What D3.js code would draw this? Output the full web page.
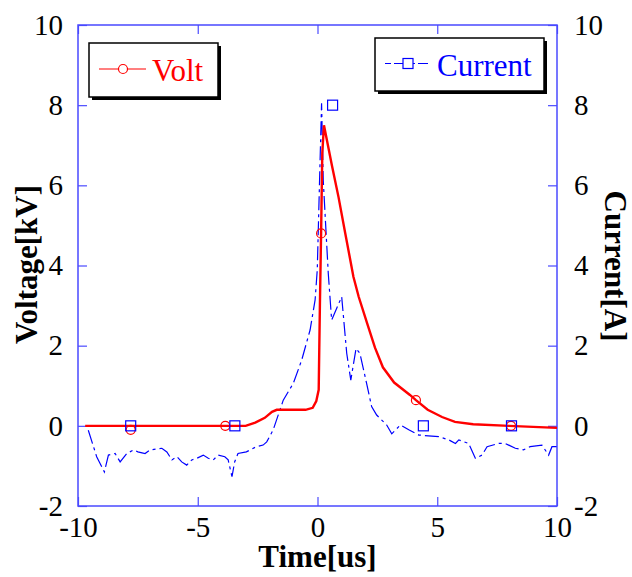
<!DOCTYPE html>
<html>
<head>
<meta charset="utf-8">
<script src="https://cdn.jsdelivr.net/npm/d3@7"></script>
</head>
<body style="margin:0">
<script>
// Voltage trace [time us, kV]
const VOLT = [
  [-9.7, 0], [-3.0, 0], [-2.6, 0.08], [-2.2, 0.2], [-1.9, 0.35], [-1.7, 0.4],
  [-0.5, 0.4], [-0.2, 0.45], [-0.05, 0.62], [0.05, 0.9], [0.1, 3.0], [0.15, 4.8],
  [0.2, 6.8], [0.27, 7.5], [0.6, 6.5], [0.88, 5.7], [1.16, 4.8], [1.5, 3.72],
  [1.72, 3.22], [2.07, 2.56], [2.4, 1.95], [2.73, 1.46], [3.2, 1.08], [3.86, 0.77],
  [4.11, 0.64], [4.6, 0.4], [5.2, 0.22], [5.74, 0.1], [6.5, 0.04], [8, 0], [10, -0.05]
];
const VOLT_MARKS = [[-7.8, -0.1], [-3.85, 0], [0.15, 4.8], [4.11, 0.64], [8.08, 0]];

// Current trace [time us, A]
const CURRENT = [
  [-9.57, -0.11], [-9.22, -0.77], [-8.9, -1.15], [-8.73, -0.73], [-8.45, -0.69],
  [-8.24, -0.9], [-7.96, -0.69], [-7.68, -0.6], [-7.5, -0.65], [-7.2, -0.69],
  [-6.99, -0.6], [-6.5, -0.56], [-6.29, -0.65], [-6.08, -0.85], [-5.87, -0.77],
  [-5.67, -0.9], [-5.46, -0.98], [-5.25, -0.85], [-5.04, -0.81], [-4.77, -0.73],
  [-4.56, -0.81], [-4.35, -0.85], [-4.15, -0.73], [-3.87, -0.77], [-3.73, -0.85],
  [-3.57, -1.27], [-3.46, -0.9], [-3.32, -0.69], [-2.97, -0.65], [-2.55, -0.52],
  [-2.27, -0.48], [-2.12, -0.4], [-1.85, -0.1], [-1.43, 0.64], [-1.01, 1.06],
  [-0.66, 1.64], [-0.31, 2.39], [-0.1, 3.14], [-0.01, 3.89], [0.17, 8.05],
  [0.24, 6.13], [0.45, 3.8], [0.59, 2.64], [1.01, 3.22], [1.22, 1.81], [1.39, 1.14],
  [1.61, 1.93], [1.77, 1.81], [2.05, 1.06], [2.26, 0.48], [2.47, 0.27], [2.89, 0.02],
  [3.1, -0.2], [3.46, 0.02], [3.81, -0.1], [4.23, -0.23], [5.06, -0.27], [5.48, -0.35],
  [5.76, -0.44], [5.9, -0.35], [6.31, -0.44], [6.59, -0.81], [6.87, -0.73], [7.08, -0.52],
  [7.57, -0.44], [7.84, -0.44], [8.26, -0.56], [8.6, -0.6], [8.88, -0.52], [9.37, -0.48],
  [9.65, -0.73], [9.79, -0.52], [10, -0.52]
];
const CURRENT_MARKS = [[-7.8, 0], [-3.45, 0], [0.63, 8], [4.42, 0], [8.1, 0]];

const X_TICKS = [-10, -5, 0, 5, 10];
const Y_TICKS = [-2, 0, 2, 4, 6, 8, 10];

const width = 632, height = 577;
const margin = { top: 25, right: 75, bottom: 71, left: 78 };
const innerW = width - margin.left - margin.right;
const innerH = height - margin.top - margin.bottom;
const AXIS = '#4a4aff';
const SERIF = '"Liberation Serif", "Times New Roman"';

const svg = d3.select('body').append('svg')
  .attr('width', width).attr('height', height);
const g = svg.append('g').attr('transform', `translate(${margin.left},${margin.top})`);

const x = d3.scaleLinear().domain([-10, 10]).range([0, innerW]);
const y = d3.scaleLinear().domain([-2, 10]).range([innerH, 0]);
const y2 = d3.scaleLinear().domain([-2, 10]).range([innerH, 0]);
const fmt = d => String(d);

// force the serif face on a text
function serif(sel, size, bold) {
  sel.attr('font-family', SERIF).attr('font-size', size)
    .style('font-family', SERIF, 'important')
    .style('font-size', size + 'px', 'important');
  if (bold) sel.attr('font-weight', 'bold').style('font-weight', 'bold', 'important');
  return sel;
}

// axes with inward ticks
function styleAxis(sel) {
  sel.attr('font-family', null).attr('font-size', null);
  sel.select('.domain').remove();
  sel.selectAll('line').attr('stroke', AXIS).attr('stroke-width', 1.2);
  sel.selectAll('text').attr('fill', '#000').call(serif, 29, false);
}
g.append('g').attr('transform', `translate(0,${innerH})`)
  .call(d3.axisBottom(x).tickValues(X_TICKS).tickSizeInner(-9).tickPadding(10).tickFormat(fmt))
  .call(styleAxis);
g.append('g')
  .call(d3.axisTop(x).tickValues(X_TICKS).tickSizeInner(-9).tickFormat(''))
  .call(styleAxis);
g.append('g')
  .call(d3.axisLeft(y).tickValues(Y_TICKS).tickSizeInner(-9).tickPadding(15).tickFormat(fmt))
  .call(styleAxis);
g.append('g').attr('transform', `translate(${innerW},0)`)
  .call(d3.axisRight(y2).tickValues(Y_TICKS).tickSizeInner(-9).tickPadding(17).tickFormat(fmt))
  .call(styleAxis);

g.append('rect').attr('width', innerW).attr('height', innerH)
  .attr('fill', 'none').attr('stroke', AXIS).attr('stroke-width', 1.5);

// axis titles
g.append('text').attr('transform', `translate(${-41},${innerH / 2 - 1}) rotate(-90)`)
  .attr('text-anchor', 'middle').call(serif, 31, true).text('Voltage[kV]');
g.append('text').attr('transform', `translate(${innerW + 48},${innerH / 2 + 0.5}) rotate(90)`)
  .attr('text-anchor', 'middle').call(serif, 31, true).text('Current[A]');
g.append('text').attr('x', innerW / 2).attr('y', innerH + 61)
  .attr('text-anchor', 'middle').call(serif, 31, true).text('Time[us]');

// lines
g.append('path').datum(CURRENT)
  .attr('d', d3.line().x(d => x(d[0])).y(d => y2(d[1])))
  .attr('fill', 'none').attr('stroke', '#0000ff').attr('stroke-width', 1.2)
  .attr('stroke-dasharray', '14,4,3,4');
g.append('path').datum(VOLT)
  .attr('d', d3.line().x(d => x(d[0])).y(d => y(d[1])))
  .attr('fill', 'none').attr('stroke', '#ff0000').attr('stroke-width', 2.4);

// markers
g.selectAll('.vm').data(VOLT_MARKS).join('circle')
  .attr('cx', d => x(d[0])).attr('cy', d => y(d[1])).attr('r', 4.5)
  .attr('fill', 'none').attr('stroke', '#ff0000').attr('stroke-width', 1.2);
g.selectAll('.cm').data(CURRENT_MARKS).join('rect')
  .attr('x', d => x(d[0]) - 5).attr('y', d => y2(d[1]) - 5).attr('width', 10).attr('height', 10)
  .attr('fill', 'none').attr('stroke', '#0000ff').attr('stroke-width', 1.2);

// legends
function legend(bx, by, bw, bh, label, color, marker, dash) {
  svg.append('rect').attr('x', bx + 3).attr('y', by + 3).attr('width', bw).attr('height', bh).attr('fill', '#000');
  svg.append('rect').attr('x', bx).attr('y', by).attr('width', bw).attr('height', bh)
    .attr('fill', '#fff').attr('stroke', '#000').attr('stroke-width', 1.5);
  const ly = by + bh / 2 - 1;
  const l = svg.append('line').attr('x1', bx + 10).attr('x2', bx + (marker === 'circle' ? 57 : 53))
    .attr('y1', ly).attr('y2', ly).attr('stroke', color).attr('stroke-width', 1.2);
  if (dash) l.attr('stroke-dasharray', dash);
  const mx = bx + (marker === 'circle' ? 34 : 33);
  if (marker === 'circle') {
    svg.append('circle').attr('cx', mx).attr('cy', ly).attr('r', 4.5)
      .attr('fill', '#fff').attr('stroke', color).attr('stroke-width', 1.2);
  } else {
    svg.append('rect').attr('x', mx - 5).attr('y', ly - 5).attr('width', 10).attr('height', 10)
      .attr('fill', '#fff').attr('stroke', color).attr('stroke-width', 1.2);
  }
  svg.append('text').attr('x', bx + (marker === 'circle' ? 63 : 62)).attr('y', ly + 12)
    .call(serif, 31, false).attr('fill', color).text(label);
}
legend(89, 43, 129, 54, 'Volt', '#ff0000', 'circle', null);
legend(375, 38, 169, 53, 'Current', '#0000ff', 'square', '6,3,12,3');
</script>
</body>
</html>
